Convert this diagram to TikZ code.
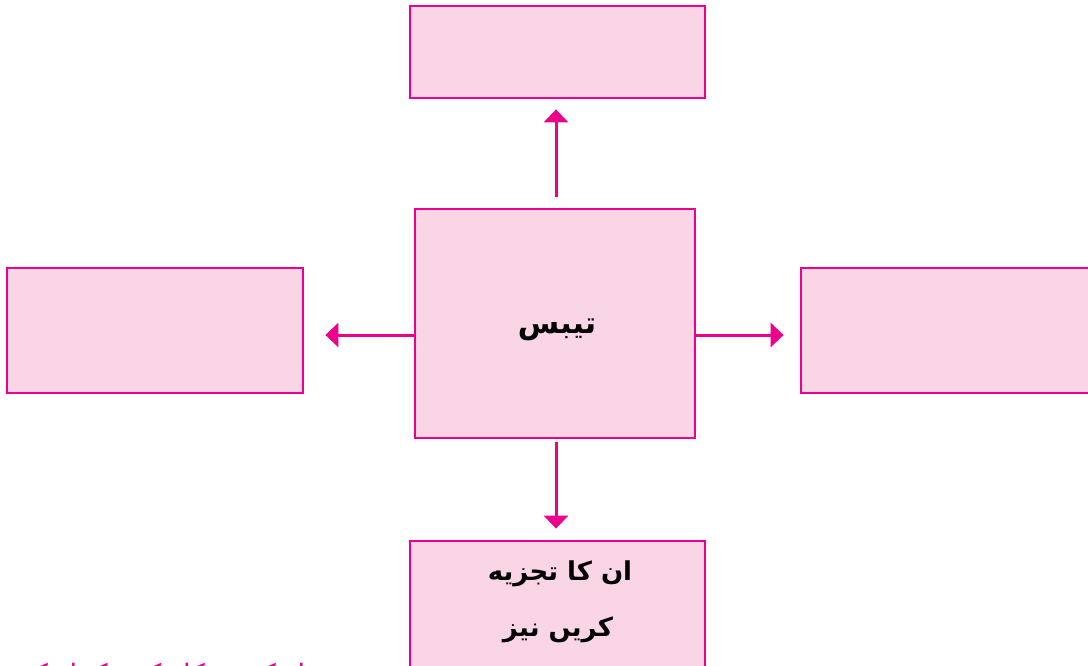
\documentclass[tikz,border=0pt]{standalone}
\usepackage{fontspec}
\TeXXeTstate=1
\newfontfamily\arabicfont[Script=Arabic]{DejaVu Sans}
\usetikzlibrary{arrows.meta}
\definecolor{boxline}{HTML}{EC008C}
\definecolor{boxfill}{HTML}{F9D5E6}
\tikzset{
  mapbox/.style={draw=boxline, fill=boxfill, line width=2.8pt, minimum width=#1, inner sep=0pt},
  conn/.style={draw=boxline, line width=3pt, -{Triangle[width=24pt,length=13pt]}},
  urdu/.style={font=\arabicfont\bfseries\fontsize{26}{40}\selectfont, align=center}
}
\begin{document}
\begin{tikzpicture}[x=1pt,y=-1pt]
\useasboundingbox (0,0) rectangle (1088,665);
\begin{scope}
\clip (0,0) rectangle (1088,665);
\node[mapbox=295pt, minimum height=92pt] (top) at (557.5,52) {};
\node[mapbox=280pt, minimum height=229pt] (center) at (555,323.5) {};
\node[urdu, font=\arabicfont\bfseries\fontsize{30}{36}\selectfont] (ctext) at (557,330) {\beginR تیبس\endR};
\node[mapbox=296pt, minimum height=125pt] (left) at (155,330.5) {};
\node[mapbox=295pt, minimum height=140pt] (bottom) at (557.5,611) {};
\node[urdu] (b1) at (560,574) {\beginR ان کا تجزیه\endR};
\node[urdu] (b2) at (558,630) {\beginR کریں نیز\endR};
\node[mapbox=295pt, minimum height=125pt] (right) at (948.5,330.5) {};
\node[font=\arabicfont\fontsize{28}{30}\selectfont, text=boxline, anchor=base east] (foot) at (330,684) {\beginR ذیل کی شکل کو مکمل کریں\endR};
\end{scope}
\draw[conn, shorten <=11pt, shorten >=10pt] ([xshift=1pt]center.north) -- ([xshift=1pt]center.north |- top.south);
\draw[conn, shorten <=3pt, shorten >=11pt] ([xshift=1pt]center.south) -- ([xshift=1pt]center.south |- bottom.north);
\draw[conn, shorten >=21pt] ([yshift=-11.5pt]center.west) -- ([yshift=-11.5pt]center.west -| left.east);
\draw[conn, shorten >=16pt] ([yshift=-11.5pt]center.east) -- ([yshift=-11.5pt]center.east -| right.west);
\end{tikzpicture}
\end{document}
